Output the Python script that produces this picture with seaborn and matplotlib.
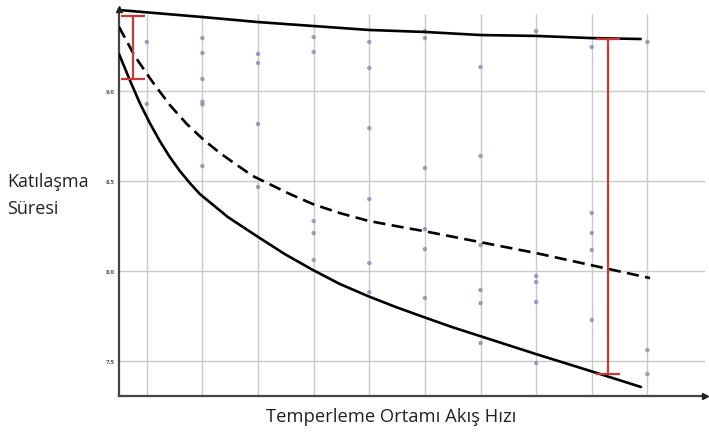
import numpy as np
import pandas as pd
import matplotlib
matplotlib.use("Agg")
import matplotlib.pyplot as plt
import seaborn as sns

# ---- data ----
upper_x = [0.5, 2.0, 3.0, 4.0, 5.0, 6.0, 7.0, 8.0, 9.0, 9.88]
upper_y = [9.45, 9.411, 9.383, 9.361, 9.339, 9.328, 9.311, 9.306, 9.294, 9.289]

mean_x = [0.5, 0.784, 1.09, 1.414, 1.719, 2.025, 2.313, 2.619, 2.906, 3.572,
          3.986, 4.471, 4.993, 5.478, 5.982, 6.99, 7.996, 8.986, 10.047]
mean_y = [9.356, 9.194, 9.056, 8.922, 8.817, 8.728, 8.656, 8.589, 8.528, 8.428,
          8.372, 8.322, 8.278, 8.25, 8.222, 8.161, 8.1, 8.033, 7.961]

lower_x = [0.5, 0.694, 0.874, 1.054, 1.234, 1.414, 1.594, 1.773, 1.953, 2.457,
           2.978, 3.482, 3.986, 4.471, 4.975, 5.478, 5.982, 6.486, 6.99, 7.996,
           8.986, 9.885]
lower_y = [9.206, 9.061, 8.933, 8.822, 8.722, 8.633, 8.556, 8.489, 8.428, 8.30,
           8.194, 8.094, 8.006, 7.928, 7.861, 7.80, 7.744, 7.689, 7.639, 7.539,
           7.444, 7.356]

pts_x = [1, 1,
         2, 2, 2, 2, 2, 2,
         3, 3, 3, 3,
         4, 4, 4, 4, 4,
         5, 5, 5, 5, 5, 5,
         6, 6, 6, 6, 6, 6,
         7, 7, 7, 7, 7, 7,
         8, 8, 8, 8, 8,
         9, 9, 9, 9, 9,
         10, 10, 10]
pts_y = [9.272, 8.928,
         9.294, 9.211, 9.067, 8.94, 8.925, 8.583,
         9.206, 9.156, 8.817, 8.467,
         9.30, 9.217, 8.278, 8.211, 8.061,
         9.272, 9.128, 8.794, 8.40, 8.044, 7.883,
         9.333, 9.294, 8.572, 8.233, 8.122, 7.85,
         9.133, 8.639, 8.144, 7.894, 7.822, 7.60,
         9.333, 7.972, 7.939, 7.828, 7.489,
         9.244, 8.322, 8.211, 8.117, 7.728,
         9.272, 7.561, 7.428]

range_x = [0.75, 9.29]
range_top = [9.417, 9.289]
range_bottom = [9.067, 7.428]

yticks = [7.5, 8.0, 8.5, 9.0]
ytick_labels = ["7.5", "8.0", "8.5", "9.0"]
xgrid = [1, 2, 3, 4, 5, 6, 7, 8, 9, 10]

sns.set_style("white")
plt.rcParams['font.family'] = ['Open Sans', 'DejaVu Sans']

fig = plt.figure(figsize=(7.09, 4.35), dpi=100)
ax = fig.add_axes([119/709, 1-397/435, (705-119)/709, (397-10)/435])
ax.set_xlim(0.5, 11.036)
ax.set_ylim(7.306, 9.4556)

# grid
for yv in yticks:
    ax.axhline(yv, color="#c9c9c9", lw=1.0, zorder=0)
ax.vlines(xgrid, 7.306, 9.428, color="#c9c9c9", lw=1.0, zorder=0)

# scatter points
sns.scatterplot(x=pts_x, y=pts_y, ax=ax, s=10, color="#8a8fb3", edgecolor="none",
                alpha=0.85, zorder=2, legend=False)

# curves
sns.lineplot(x=upper_x, y=upper_y, ax=ax, color="black", lw=1.9, zorder=3,
             sort=False, estimator=None)
sns.lineplot(x=lower_x, y=lower_y, ax=ax, color="black", lw=1.9, zorder=3,
             sort=False, estimator=None)
sns.lineplot(x=mean_x, y=mean_y, ax=ax, color="black", lw=1.9, zorder=3,
             sort=False, estimator=None, linestyle=(0, (4.6, 2.4)))

# red range bars
mid = [(t + b) / 2 for t, b in zip(range_top, range_bottom)]
half = [(t - b) / 2 for t, b in zip(range_top, range_bottom)]
ax.errorbar(range_x, mid, yerr=half, fmt="none", ecolor="#cc3535", elinewidth=1.6,
            capsize=8.5, capthick=1.6, zorder=4)

# spines
for s in ["top", "right"]:
    ax.spines[s].set_visible(False)
for s in ["left", "bottom"]:
    ax.spines[s].set_color("#444444")
    ax.spines[s].set_linewidth(1.6)
ax.plot([0], [1], marker="^", color="#222222", markersize=4, transform=ax.transAxes,
        clip_on=False, zorder=5)
ax.plot([1], [0], marker=">", color="#222222", markersize=4, transform=ax.transAxes,
        clip_on=False, zorder=5)

ax.set_xticks([])
ax.set_yticks(yticks)
ax.set_yticklabels(ytick_labels, fontsize=4.5, color="#555555", fontweight="bold")
ax.tick_params(axis="y", length=0, pad=3)
ax.set_xlabel("")
ax.set_ylabel("")

fig.text(7/709, 1-182/435, "Katılaşma", fontsize=13, color="#222222",
         ha="left", va="center")
fig.text(7/709, 1-209/435, "Süresi", fontsize=13, color="#222222",
         ha="left", va="center")
fig.text(391/709, 1-417/435, "Temperleme Ortamı Akış Hızı", fontsize=13.2,
         color="#222222", ha="center", va="center")

fig.savefig("out.png", dpi=100)
